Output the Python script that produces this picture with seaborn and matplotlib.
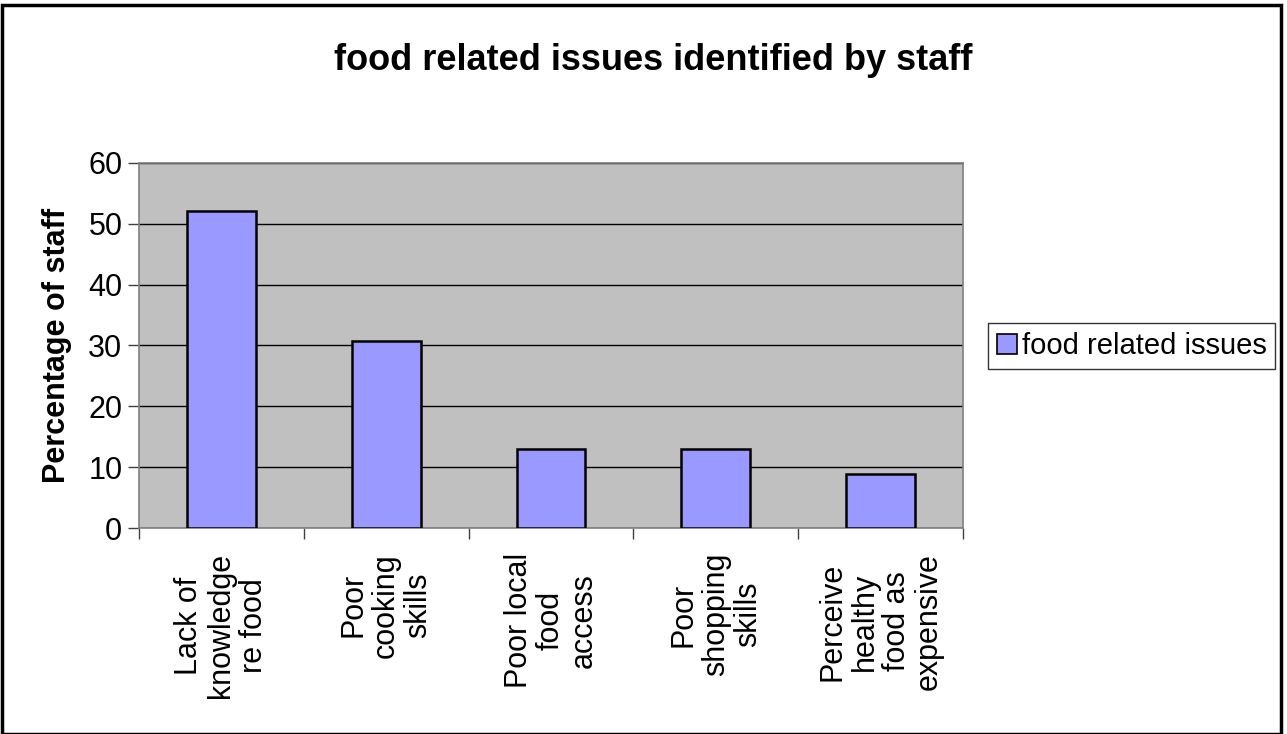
import matplotlib
matplotlib.use("Agg")
import matplotlib.pyplot as plt
import seaborn as sns
import pandas as pd
import numpy as np
from matplotlib.patches import Rectangle, Patch

categories = ["Lack of\nknowledge\nre food", "Poor\ncooking\nskills", "Poor local\nfood\naccess",
              "Poor\nshopping\nskills", "Perceive\nhealthy\nfood as\nexpensive"]
values = [52.1, 30.7, 13.0, 13.0, 8.9]
yticks = [0, 10, 20, 30, 40, 50, 60]
series_name = "food related issues"

sns.set_theme(style="white")
plt.rcParams['font.family'] = ['Liberation Sans', 'DejaVu Sans']
plt.rcParams['text.color'] = 'black'
plt.rcParams['xtick.color'] = 'black'
plt.rcParams['ytick.color'] = 'black'
plt.rcParams['axes.labelcolor'] = 'black'

df = pd.DataFrame({"cat": categories, "val": values})

fig = plt.figure(figsize=(12.87, 7.34), dpi=100)
ax = fig.add_axes([139/1287, 1-528/734, (963-139)/1287, (528-163)/734])
ax.set_facecolor("#C0C0C0")

sns.barplot(data=df, x="cat", y="val", ax=ax, color="#9999FF", width=0.417,
            edgecolor="black", linewidth=1.8, saturation=1, zorder=3)

ax.set_ylim(0, 60)
ax.set_xlim(-0.5, len(categories) - 0.5)
ax.set_yticks(yticks)
ax.set_yticklabels([str(t) for t in yticks], fontsize=22)
ax.yaxis.grid(True, color="black", linewidth=1.0, zorder=1)
ax.set_axisbelow(True)

ax.set_xticks(range(len(categories)))
ax.set_xticklabels(categories, rotation=90, fontsize=22, ha="center", va="top",
                   multialignment="center", linespacing=1.1)
ax.tick_params(axis="x", which="major", length=0, pad=18)
ax.set_xticks(np.arange(-0.5, len(categories)), minor=True)
ax.tick_params(axis="x", which="minor", length=8, width=1, color="#404040", direction="out", bottom=True)
ax.tick_params(axis="y", which="major", length=8, width=1, color="#404040", direction="out", left=True, pad=4)

for s in ax.spines.values():
    s.set_color("#808080")
    s.set_linewidth(1.2)
    s.set_visible(True)

ax.set_xlabel("")
ax.set_ylabel("Percentage of staff", fontsize=22, fontweight="bold", va="center")
ax.yaxis.set_label_coords((57 - 139) / 824, 0.5)
fig.text(653/1287, 1 - 61/734, "food related issues identified by staff",
         ha="center", va="center", fontsize=26, fontweight="bold")

handle = Patch(facecolor="#9999FF", edgecolor="black", linewidth=1.2)
leg = fig.legend([handle], [series_name], loc="center left",
                 bbox_to_anchor=(988/1287, 1 - 346/734), fontsize=21, frameon=True,
                 fancybox=False, handlelength=0.7, handleheight=0.7, handletextpad=0.15,
                 borderpad=0.3, borderaxespad=0)
leg.get_frame().set_edgecolor("black")
leg.get_frame().set_linewidth(1.0)

fig.patches.append(Rectangle((2/1287, 0), (1281-2)/1287, 1 - 5/734, transform=fig.transFigure,
                             fill=False, edgecolor="black", linewidth=2.5))

fig.savefig("out.png", dpi=100, facecolor="white")
